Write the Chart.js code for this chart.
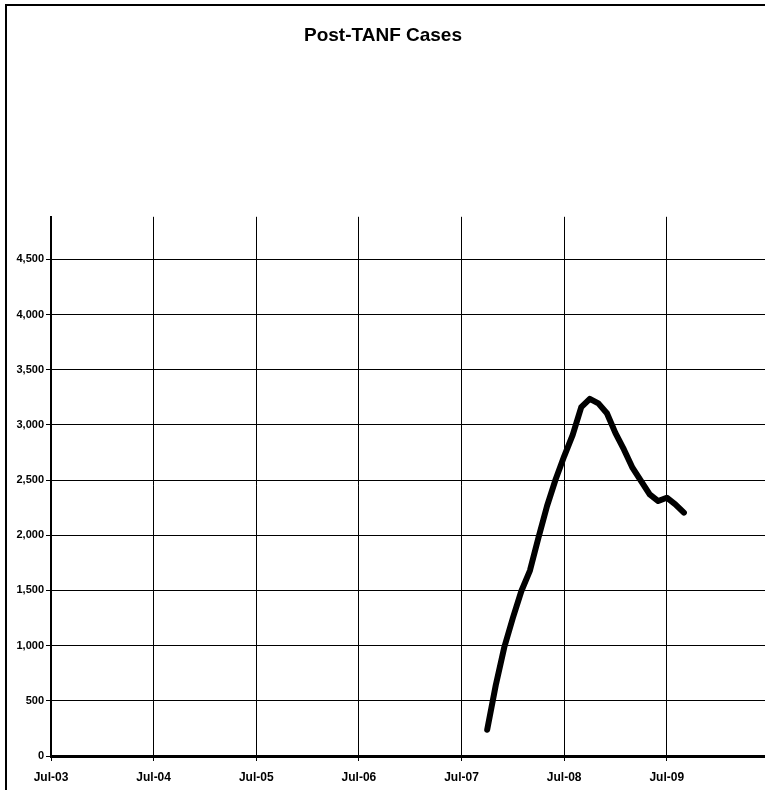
<!DOCTYPE html>
<html>
<head>
<meta charset="utf-8">
<title>Post-TANF Cases</title>
<script src="https://cdn.jsdelivr.net/npm/chart.js@4"></script>
<style>
  html, body { margin: 0; padding: 0; background: #fff; overflow: hidden; }
  body { width: 765px; height: 790px; position: relative; }
  #frame {
    position: absolute; left: 5px; top: 4px;
    width: 820px; height: 820px;
    border: 2px solid #000;
  }
  #wrap { position: absolute; left: 0; top: 0; width: 766px; height: 790px; }
</style>
</head>
<body>
<div id="frame"></div>
<div id="wrap"><canvas id="myChart"></canvas></div>
<script>
// monthly caseload, Oct-07 .. Sep-09
const months = ['Oct-07', 'Nov-07', 'Dec-07', 'Jan-08', 'Feb-08', 'Mar-08', 'Apr-08', 'May-08',
  'Jun-08', 'Jul-08', 'Aug-08', 'Sep-08', 'Oct-08', 'Nov-08', 'Dec-08', 'Jan-09', 'Feb-09',
  'Mar-09', 'Apr-09', 'May-09', 'Jun-09', 'Jul-09', 'Aug-09', 'Sep-09'];
const cases = [238, 640, 985, 1250, 1495, 1680, 1980, 2265, 2505, 2715, 2910, 3160, 3235,
  3195, 3105, 2925, 2775, 2610, 2490, 2370, 2310, 2340, 2280, 2205];
const xTickLabels = ['Jul-03', 'Jul-04', 'Jul-05', 'Jul-06', 'Jul-07', 'Jul-08', 'Jul-09'];
const yTicks = [0, 500, 1000, 1500, 2000, 2500, 3000, 3500, 4000, 4500];

const monthNames = ['Jan', 'Feb', 'Mar', 'Apr', 'May', 'Jun', 'Jul', 'Aug', 'Sep', 'Oct', 'Nov', 'Dec'];

// months counted from Jul-03
function monthIndex(label) {
  var parts = label.split('-');
  var m = monthNames.indexOf(parts[0]);
  var y = 2000 + parseInt(parts[1], 10);
  return (y - 2003) * 12 + m - 6;
}

Chart.defaults.font.family = "'Liberation Sans', Arial, sans-serif";
Chart.defaults.color = '#000';

const data = {
  datasets: [{
    label: 'Post-TANF Cases',
    data: months.map((m, i) => ({ x: monthIndex(m), y: cases[i] })),
    borderColor: '#000',
    backgroundColor: '#000',
    borderWidth: 6,
    borderCapStyle: 'round',
    borderJoinStyle: 'round',
    pointRadius: 0,
    tension: 0,
    fill: false
  }]
};

const config = {
  type: 'line',
  data: data,
  options: {
    responsive: true,
    maintainAspectRatio: false,
    animation: false,
    layout: { padding: 0 },
    plugins: {
      legend: { display: false },
      tooltip: { enabled: false },
      title: {
        display: true,
        text: 'Post-TANF Cases',
        font: { size: 19, weight: 'bold' },
        padding: { top: 24, bottom: 170 }
      }
    },
    scales: {
      x: {
        type: 'linear',
        min: 0,
        max: 83.6,
        afterBuildTicks: (scale) => {
          scale.ticks = xTickLabels.map(l => ({ value: monthIndex(l) }));
        },
        afterFit: (scale) => { scale.height = 34; },
        ticks: {
          maxRotation: 0,
          autoSkip: false,
          padding: 9,
          font: { size: 12, weight: 'bold' },
          callback: (v) => xTickLabels[v / 12]
        },
        grid: { color: '#000', lineWidth: 1, tickLength: 5, drawTicks: true },
        border: { color: '#000', width: 3 }
      },
      y: {
        min: 0,
        max: 4885,
        afterBuildTicks: (scale) => {
          scale.ticks = yTicks.map(v => ({ value: v }));
        },
        afterFit: (scale) => { scale.width = 51; },
        ticks: {
          autoSkip: false,
          padding: 2,
          font: { size: 11, weight: 'bold' },
          callback: (v) => v.toLocaleString('en-US')
        },
        grid: { color: '#000', lineWidth: 1, tickLength: 5 },
        border: { color: '#000', width: 2 }
      }
    }
  }
};

const myChart = new Chart(document.getElementById('myChart'), config);
</script>
</body>
</html>
